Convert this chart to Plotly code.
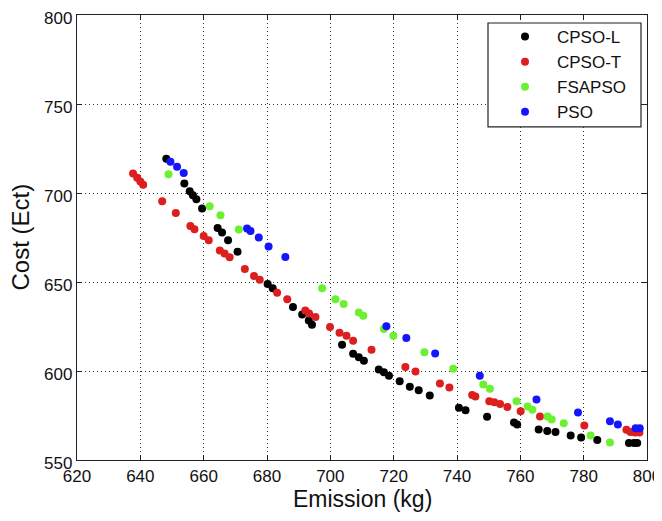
import plotly.graph_objects as go

# ---- data ----
cpso_l_x = [648.2, 653.9, 655.6, 656.6, 657.7, 659.5, 664.4, 665.8, 667.7, 670.7,
            680.2, 681.8, 688.2, 691.1, 693.2, 694.2, 703.7, 707.2, 709.0, 710.6,
            715.3, 716.9, 718.5, 721.9, 725.1, 727.9, 731.4, 740.6, 742.7, 749.5,
            758.0, 759.0, 765.8, 768.5, 771.1, 775.9, 779.2, 784.3, 794.3, 795.9, 796.9]
cpso_l_y = [719.3, 705.3, 701.0, 698.7, 696.5, 691.3, 680.4, 677.8, 673.5, 667.0,
            648.9, 646.5, 635.9, 631.8, 628.4, 626.0, 614.8, 609.7, 607.7, 605.8,
            600.8, 599.3, 597.4, 594.2, 591.1, 589.2, 586.2, 579.3, 578.0, 574.3,
            571.0, 570.0, 567.2, 566.3, 565.7, 563.8, 562.6, 561.2, 559.5, 559.5, 559.5]

cpso_t_x = [637.7, 639.0, 640.0, 640.9, 646.9, 651.2, 655.8, 657.1, 660.0, 661.6,
            665.1, 666.6, 668.2, 673.0, 675.9, 677.7, 683.2, 686.4, 692.1, 693.3,
            695.3, 699.9, 702.9, 705.1, 707.2, 713.0, 723.7, 726.9, 734.6, 737.6,
            744.8, 745.8, 750.2, 751.8, 753.6, 755.9, 760.1, 766.2, 780.2,
            793.5, 794.8, 796.2, 797.6]
cpso_t_y = [710.9, 708.6, 706.5, 704.7, 695.4, 688.8, 681.4, 679.7, 675.9, 673.5,
            667.7, 666.0, 663.9, 657.3, 653.4, 651.3, 644.0, 640.3, 634.0, 632.3,
            630.4, 624.7, 621.5, 619.8, 617.0, 612.0, 602.3, 599.7, 593.0, 590.7,
            586.5, 585.7, 583.0, 582.5, 581.5, 579.8, 577.4, 574.5, 569.4,
            567.0, 565.8, 565.5, 565.5]

fsapso_x = [648.9, 661.9, 665.3, 671.1, 697.4, 701.6, 704.2, 709.0, 710.4, 716.9,
            719.9, 729.7, 738.8, 748.3, 750.4, 758.8, 762.3, 763.8, 768.6, 769.9,
            773.7, 782.2, 788.3]
fsapso_y = [710.5, 692.6, 687.5, 679.5, 646.5, 640.3, 637.7, 632.8, 631.0, 623.6,
            619.8, 610.5, 601.2, 592.4, 590.0, 583.0, 580.1, 578.2, 574.5, 572.8,
            570.7, 563.8, 559.8]

pso_x = [649.5, 651.6, 653.7, 673.7, 674.8, 677.4, 680.5, 685.8, 717.7, 724.0,
         733.1, 747.2, 765.1, 778.2, 788.3, 790.8, 796.4, 797.7]
pso_y = [717.6, 714.8, 711.3, 680.1, 678.7, 675.0, 670.0, 664.0, 625.2, 618.5,
         609.9, 597.4, 584.0, 576.7, 571.8, 570.0, 567.8, 567.8]

series_names = ["CPSO-L", "CPSO-T", "FSAPSO", "PSO"]
x_ticks = [620, 640, 660, 680, 700, 720, 740, 760, 780, 800]
y_ticks = [550, 600, 650, 700, 750, 800]
x_title = "Emission (kg)"
y_title = "Cost (Ect)"

colors = ["#000000", "#dc1e1e", "#6cf032", "#1414ff"]
xs = [cpso_l_x, cpso_t_x, fsapso_x, pso_x]
ys = [cpso_l_y, cpso_t_y, fsapso_y, pso_y]

FONT = "Liberation Sans, Arial, sans-serif"

# the page has a default 8px body margin; figure starts at (8, 8)
OFF = 8
FW, FH = 662 - OFF, 521 - 2 * OFF
# target plot-area edges in window pixels (from the reference)
PL, PR, PT, PB = 77, 647, 15, 460.5
L, R, T, B = PL - OFF, (OFF + FW) - PR, PT - OFF, (OFF + FH) - PB
PW, PH = PR - PL, PB - PT


def px_x(p):
    return (p - PL) / PW


def px_y(p):
    return 1 - (p - PT) / PH


fig = go.Figure()
for name, x, y, c in zip(series_names, xs, ys, colors):
    fig.add_trace(go.Scatter(
        x=x, y=y, mode="markers", name=name, legendgroup=name,
        marker=dict(color=c, size=8, line=dict(width=0)),
    ))

axis_common = dict(
    showline=True, linecolor="#222", linewidth=1.4, mirror="ticks",
    ticks="inside", ticklen=5, tickcolor="#222",
    showgrid=True, gridcolor="#333", gridwidth=1, griddash="1px,3px",
    zeroline=False, automargin=False, ticklabeloverflow="allow",
    tickfont=dict(family=FONT, size=17, color="#111"),
)

fig.update_xaxes(range=[620, 800], tickvals=x_ticks, **axis_common)
fig.update_yaxes(range=[550, 800], tickvals=y_ticks, ticklabelshift=3, **axis_common)

fig.add_annotation(text=x_title, xref="paper", yref="paper",
                   x=0.5, y=px_y(500), xanchor="center", yanchor="middle",
                   showarrow=False, font=dict(family=FONT, size=23, color="#111"))
fig.add_annotation(text=y_title, xref="paper", yref="paper", textangle=-90,
                   x=px_x(20), y=0.5, xanchor="center", yanchor="middle",
                   showarrow=False, font=dict(family=FONT, size=24, color="#111"))

# legend box (drawn as a shape so its size matches the reference)
fig.add_shape(type="rect", xref="paper", yref="paper",
              x0=px_x(488), x1=px_x(641), y0=px_y(127), y1=px_y(23),
              line=dict(color="#222", width=1.2), fillcolor="white", layer="above")

fig.update_layout(
    width=FW, height=FH,
    margin=dict(l=L, r=R, t=T, b=B, autoexpand=False),
    paper_bgcolor="white", plot_bgcolor="white",
    showlegend=True,
    legend=dict(x=px_x(493), xanchor="left", y=px_y(19), yanchor="top",
                bgcolor="rgba(0,0,0,0)", borderwidth=0, itemwidth=54,
                tracegroupgap=0,
                font=dict(family=FONT, size=17, color="#111")),
)

fig.write_html("out.html")
